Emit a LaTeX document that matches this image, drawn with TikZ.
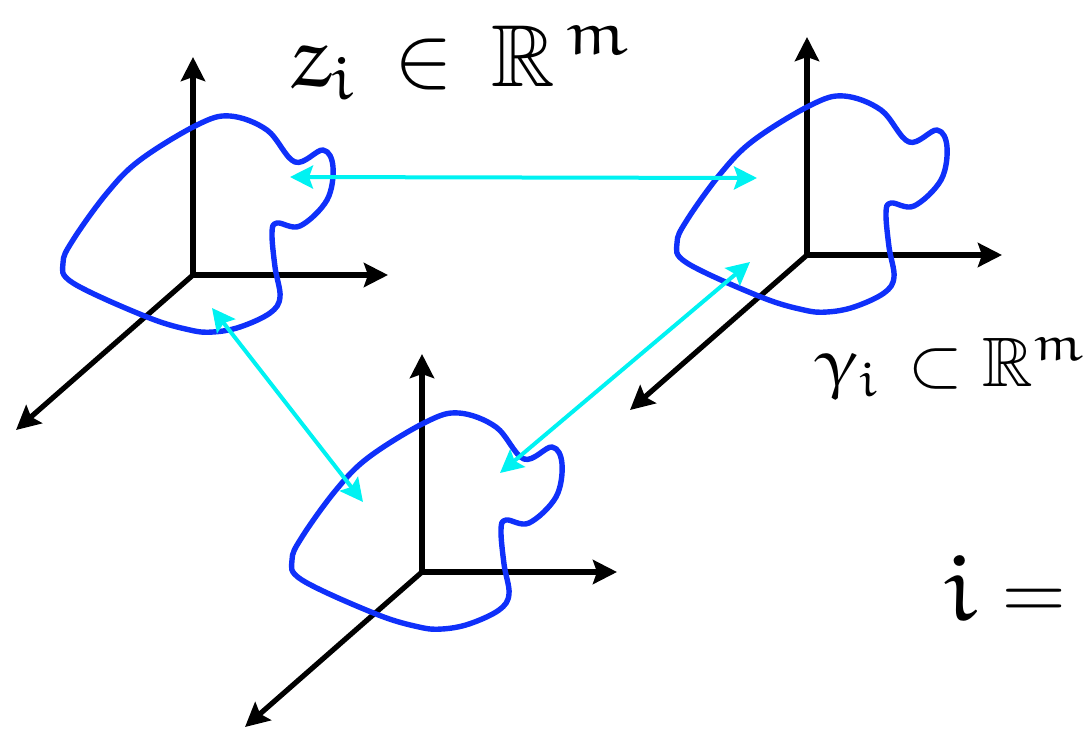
\RequirePackage{fix-cm}
\documentclass[tikz,border=0pt]{standalone}
\usepackage{amssymb}
\usepackage{graphicx}
\usetikzlibrary{arrows.meta}
\definecolor{curveBlue}{HTML}{0F30FA}
\definecolor{linkCyan}{HTML}{00F2F2}
% upright Euler letters, scalable
\DeclareFontFamily{U}{eulr}{}
\DeclareFontShape{U}{eulr}{m}{n}{<->eurm10}{}
\DeclareSymbolFont{eulerletters}{U}{eulr}{m}{n}
\DeclareMathSymbol{\eulz}{\mathord}{eulerletters}{`z}
\DeclareMathSymbol{\euli}{\mathord}{eulerletters}{`i}
\DeclareMathSymbol{\eulm}{\mathord}{eulerletters}{`m}
\DeclareMathSymbol{\eulgamma}{\mathord}{eulerletters}{"0D}
\newcommand{\stretchx}[2]{\scalebox{#1}[1]{$#2$}}

\begin{document}
\begin{tikzpicture}[
                x=0.5pt, y=-0.5pt,
                axis/.style={draw=black, line width=2.6pt,
                             -{Stealth[length=12pt, width=12pt, inset=2pt]}},
                curve/.style={draw=curveBlue, line width=2.7pt, line join=round},
                link/.style={draw=linkCyan, line width=2pt,
                             {Stealth[length=11.5pt, width=11.5pt, inset=2pt]}-{Stealth[length=11.5pt, width=11.5pt, inset=2pt]}},
                bigmath/.style={anchor=base west, inner sep=0pt, font=\fontsize{44}{48}\selectfont},
                midmath/.style={anchor=base west, inner sep=0pt, font=\fontsize{35}{39}\selectfont},
                pics/frame/.style={code={
                    \coordinate (-o) at (0,0);
                    \coordinate (-up) at (0,-218);
                    \coordinate (-right) at (195,0);
                    \coordinate (-depth) at (-177,155);
                    \draw[axis] (-o) -- (-up);
                    \draw[axis] (-o) -- (-right);
                    \draw[axis] (-o) -- (-depth);
                    \draw[curve] plot[smooth cycle, tension=0.6] coordinates {
                        (37,-159) (74,-145) (102,-113) (130,-125) (140,-108) (134,-75)
                        (107,-49) (84,-52) (79,-42) (82,-8) (87,22) (77,38) (47,52)
                        (20,57) (-3,55) (-46,42) (-120,8) (-130,-12) (-120,-35)
                        (-86,-82) (-53,-115) (4,-150)};
                }}
            ]
                \useasboundingbox (0,0) rectangle (1085,728);

                % three copies of the space
                \pic (f1) at (193,275) {frame};
                \pic (f2) at (807,255) {frame};
                \pic (f3) at (422,572) {frame};

                % points joined across the copies
                \coordinate (p1a) at (290,177);
                \coordinate (p2a) at (757,178);
                \coordinate (p1b) at (212,308);
                \coordinate (p3b) at (363,502);
                \coordinate (p2c) at (750,262);
                \coordinate (p3c) at (500,473);
                \draw[link] (p1a) -- (p2a);
                \draw[link] (p1b) -- (p3b);
                \draw[link] (p2c) -- (p3c);

                \node[bigmath] (zlab) at (290,86)
                    {$\eulz_{\euli}\,\in\,\mathbb{R}^{\mkern3mu\stretchx{1.1}{\scriptstyle\eulm}}$};
                \node[midmath] (glab) at (816,386)
                    {$\eulgamma_{\euli}\,\subset\mathbb{R}^{\stretchx{1.1}{\scriptstyle\eulm}}$};
                \node[bigmath] (ilab) at (943,620) {$\scalebox{1.08}{$\euli$}=$};
            \end{tikzpicture}
\end{document}
